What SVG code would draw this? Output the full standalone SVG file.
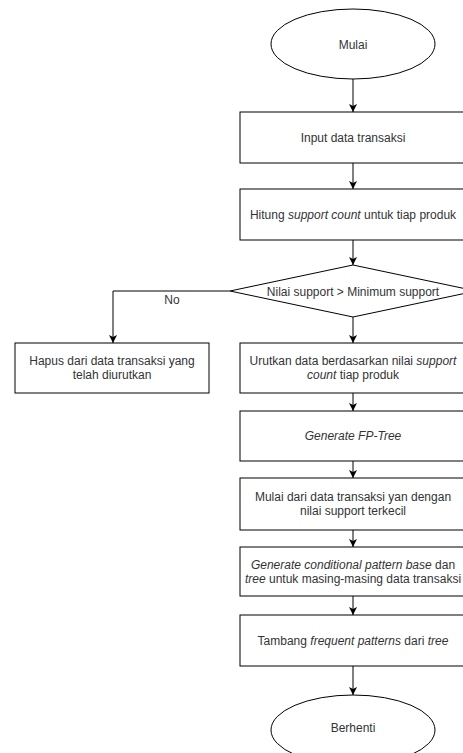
<svg xmlns="http://www.w3.org/2000/svg" width="463" height="753" viewBox="0 0 463 753">
<style>
.bg{fill:#ffffff}
.shape{fill:#ffffff;stroke:#000000;stroke-width:1}
.edge{fill:none;stroke:#000000;stroke-width:1}
.t{font-family:"Liberation Sans",Arial,sans-serif;font-size:12px;fill:#333333;text-anchor:middle;dominant-baseline:central}
.i{font-style:italic}
</style>
<defs>
<marker id="arr" markerUnits="userSpaceOnUse" markerWidth="10" markerHeight="10" refX="8" refY="4" orient="auto">
<path d="M0,0 L8,4 L0,8 L2,4 z" fill="#000000"/>
</marker>
</defs>
<rect class="bg" x="0" y="0" width="463" height="753"/>
<g id="connectors">
<line class="edge" x1="353" y1="79" x2="353" y2="112" marker-end="url(#arr)"/>
<line class="edge" x1="353" y1="163" x2="353" y2="189" marker-end="url(#arr)"/>
<line class="edge" x1="353" y1="240" x2="353" y2="265" marker-end="url(#arr)"/>
<line class="edge" x1="353" y1="317" x2="353" y2="343" marker-end="url(#arr)"/>
<polyline class="edge" points="230,291 113,291 113,343" marker-end="url(#arr)"/>
<text class="t" x="172" y="300">No</text>
<line class="edge" x1="353" y1="393" x2="353" y2="411" marker-end="url(#arr)"/>
<line class="edge" x1="353" y1="461" x2="353" y2="478" marker-end="url(#arr)"/>
<line class="edge" x1="353" y1="530" x2="353" y2="547" marker-end="url(#arr)"/>
<line class="edge" x1="353" y1="596" x2="353" y2="615" marker-end="url(#arr)"/>
<line class="edge" x1="353" y1="666" x2="353" y2="695" marker-end="url(#arr)"/>
</g>
<g id="start">
<ellipse class="shape" cx="353" cy="44" rx="82" ry="35"/>
<text class="t" x="353" y="45">Mulai</text>
</g>
<g id="input">
<rect class="shape" x="240" y="112" width="226" height="51"/>
<text class="t" x="353" y="138">Input data transaksi</text>
</g>
<g id="hitung">
<rect class="shape" x="240" y="189" width="226" height="51"/>
<text class="t" x="353" y="215">Hitung <tspan class="i">support count</tspan> untuk tiap produk</text>
</g>
<g id="decision">
<polygon class="shape" points="353,265 476,291 353,317 230,291"/>
<text class="t" x="353" y="292">Nilai support &gt; Minimum support</text>
</g>
<g id="hapus">
<rect class="shape" x="15" y="343" width="194" height="50"/>
<text class="t" x="112" y="361">Hapus dari data transaksi yang</text>
<text class="t" x="112" y="375">telah diurutkan</text>
</g>
<g id="urutkan">
<rect class="shape" x="240" y="343" width="226" height="50"/>
<text class="t" x="353" y="361">Urutkan data berdasarkan nilai <tspan class="i">support</tspan></text>
<text class="t" x="353" y="375"><tspan class="i">count</tspan> tiap produk</text>
</g>
<g id="fptree">
<rect class="shape" x="240" y="411" width="226" height="50"/>
<text class="t i" x="353" y="436">Generate FP-Tree</text>
</g>
<g id="mulaidari">
<rect class="shape" x="240" y="478" width="226" height="52"/>
<text class="t" x="353" y="497">Mulai dari data transaksi yan dengan</text>
<text class="t" x="353" y="511">nilai support terkecil</text>
</g>
<g id="conditional">
<rect class="shape" x="240" y="547" width="226" height="49"/>
<text class="t" x="353" y="565"><tspan class="i">Generate conditional pattern base</tspan> dan</text>
<text class="t" x="353" y="579"><tspan class="i">tree</tspan> untuk masing-masing data transaksi</text>
</g>
<g id="tambang">
<rect class="shape" x="240" y="615" width="226" height="51"/>
<text class="t" x="353" y="641">Tambang <tspan class="i">frequent patterns</tspan> dari <tspan class="i">tree</tspan></text>
</g>
<g id="end">
<ellipse class="shape" cx="353" cy="730" rx="82" ry="35"/>
<text class="t" x="353" y="728">Berhenti</text>
</g>
</svg>
